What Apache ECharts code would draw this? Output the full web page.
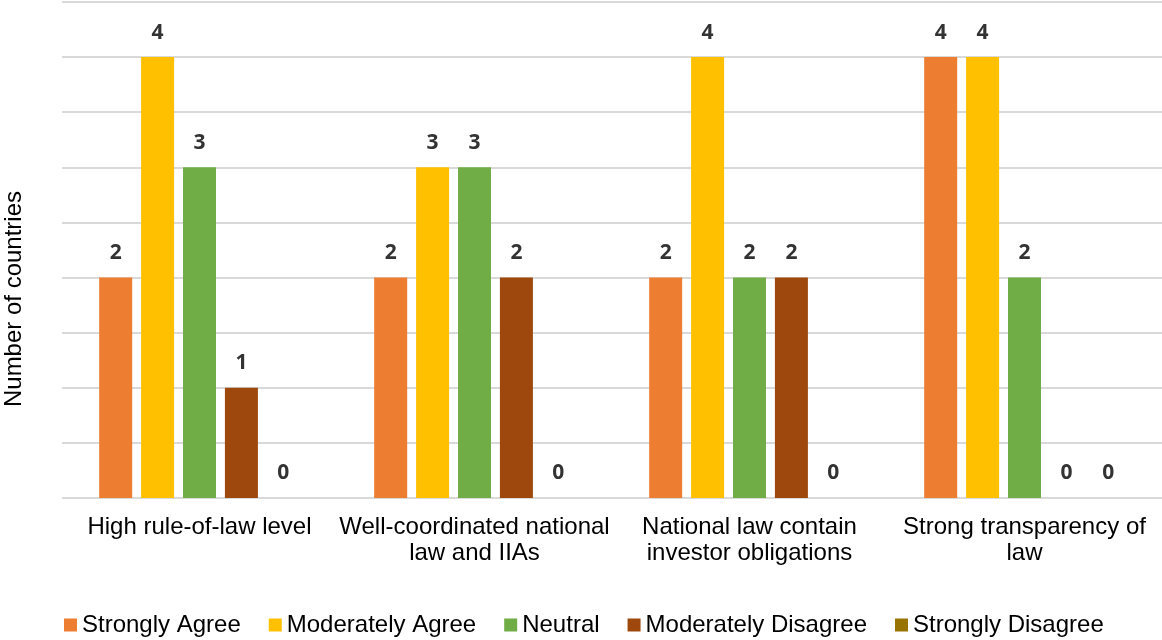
<!DOCTYPE html>
<html>
<head>
<meta charset="utf-8">
<script src="https://cdn.jsdelivr.net/npm/echarts@6/dist/echarts.min.js"></script>
<style>
  html, body { margin: 0; padding: 0; background: #fff; }
  #chart { width: 1162px; height: 640px; }
</style>
</head>
<body>
<div id="chart"></div>
<script>
// Survey categories (x axis)
const categories = [
  'High rule-of-law level',
  'Well-coordinated national\nlaw and IIAs',
  'National law contain\ninvestor obligations',
  'Strong transparency of\nlaw'
];

// Number of countries per response
const stronglyAgree = [2, 2, 2, 4];
const moderatelyAgree = [4, 3, 4, 4];
const neutral = [3, 3, 2, 2];
const moderatelyDisagree = [1, 2, 2, 0];
const stronglyDisagree = [0, 0, 0, 0];

const seriesNames = ['Strongly Agree', 'Moderately Agree', 'Neutral', 'Moderately Disagree', 'Strongly Disagree'];
const seriesData = [stronglyAgree, moderatelyAgree, neutral, moderatelyDisagree, stronglyDisagree];
const colors = ['#ED7D31', '#FFC000', '#70AD47', '#9E480E', '#997300'];

const chart = echarts.init(document.getElementById('chart'));

chart.setOption({
  animation: false,
  color: colors,
  grid: { left: 62, right: 0, top: 2, bottom: 142, containLabel: false, outerBoundsMode: 'none' },
  legend: {
    bottom: -2,
    left: 59,
    itemWidth: 13,
    itemHeight: 13,
    itemGap: 28,
    icon: 'rect',
    textStyle: { fontFamily: 'Liberation Sans', fontSize: 24, color: '#000' },
    data: seriesNames
  },
  xAxis: {
    type: 'category',
    data: categories,
    axisLine: { show: false },
    axisTick: { show: false },
    axisLabel: {
      fontFamily: 'Liberation Sans',
      fontSize: 24,
      color: '#000',
      lineHeight: 26,
      margin: 16,
      interval: 0
    }
  },
  yAxis: {
    type: 'value',
    min: 0,
    max: 4.5,
    interval: 0.5,
    name: 'Number of countries',
    nameLocation: 'middle',
    nameGap: 36,
    nameTextStyle: {
      fontFamily: 'Liberation Sans',
      fontSize: 24,
      color: '#000',
      padding: [0, 98, 0, 0]
    },
    axisLabel: { show: false },
    axisLine: { show: false },
    axisTick: { show: false },
    splitLine: { lineStyle: { color: '#D9D9D9', width: 2 } }
  },
  series: seriesNames.map((name, i) => ({
    name,
    type: 'bar',
    data: seriesData[i],
    barWidth: 33,
    barGap: '27%',
    barCategoryGap: '27%',
    label: {
      show: true,
      position: 'top',
      distance: 14,
      fontFamily: 'Open Sans',
      fontWeight: 'bold',
      fontSize: 21,
      color: '#333333'
    }
  }))
});
</script>
</body>
</html>
